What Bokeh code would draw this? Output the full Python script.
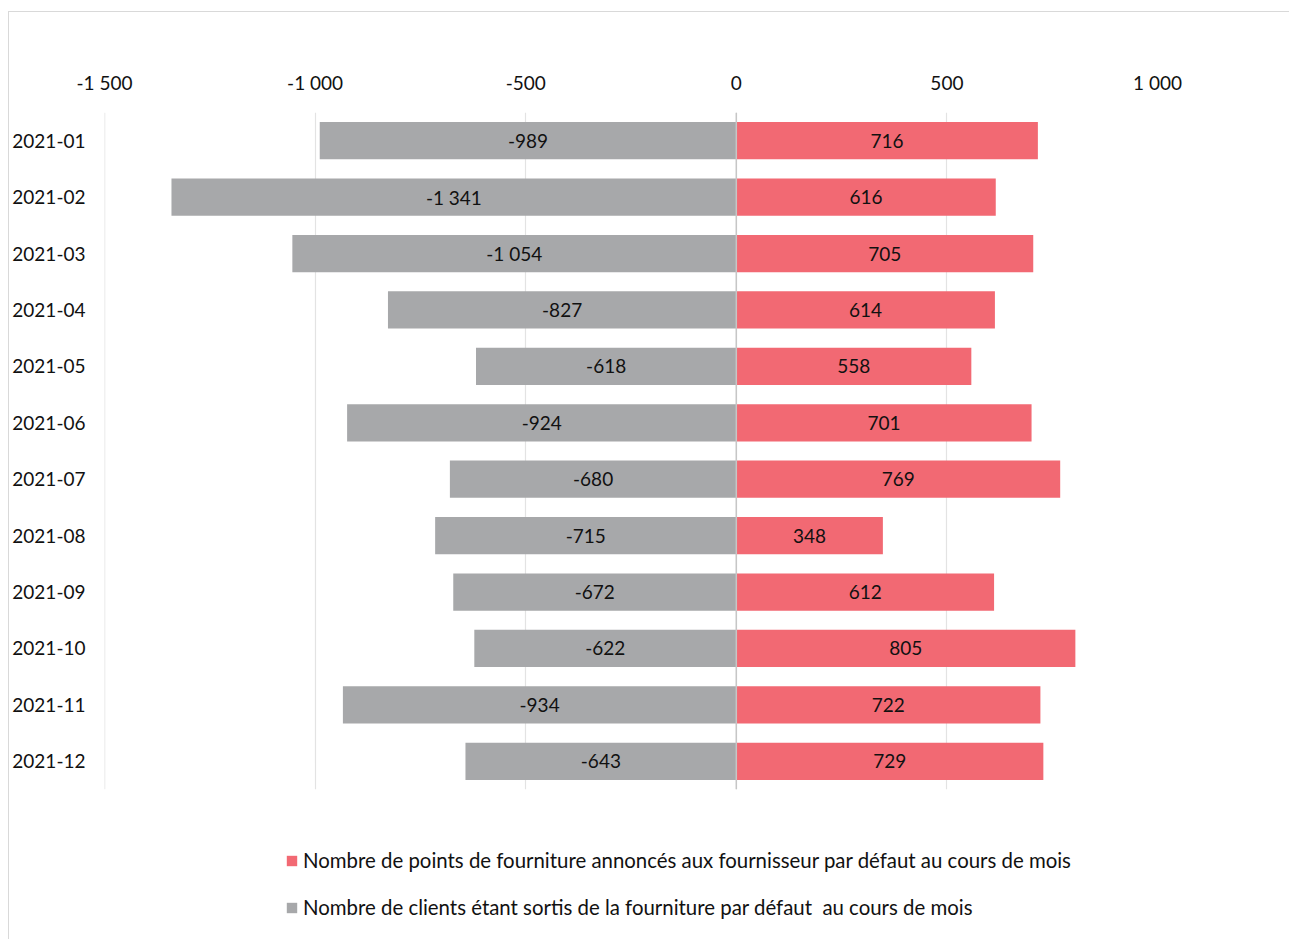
from bokeh.plotting import figure
from bokeh.layouts import column
from bokeh.models import (ColumnDataSource, FactorRange, FixedTicker, CustomJSTickFormatter,
                          Span, Legend, LegendItem, LabelSet)
from bokeh.core.properties import value
from bokeh.embed import file_html
from bokeh.resources import INLINE

months = ["2021-01", "2021-02", "2021-03", "2021-04", "2021-05", "2021-06",
          "2021-07", "2021-08", "2021-09", "2021-10", "2021-11", "2021-12"]
announced = [716, 616, 705, 614, 558, 701, 769, 348, 612, 805, 722, 729]
exited = [-989, -1341, -1054, -827, -618, -924, -680, -715, -672, -622, -934, -643]
x_ticks = [-1500, -1000, -500, 0, 500, 1000]
series_names = ["Nombre de points de fourniture annoncés aux fournisseur par défaut au cours de mois",
                "Nombre de clients étant sortis de la fourniture par défaut  au cours de mois"]

RED = "#F26973"
GRAY = "#A7A8AA"
FONT = "Lato"
FS = "19px"
LEG_FS = "20.4px"


def fmt(v):
    s = f"{abs(v):,}".replace(",", " ")
    return ("-" if v < 0 else "") + s


src = ColumnDataSource(dict(
    month=months, announced=announced, exited=exited,
    a_mid=[v / 2 for v in announced], e_mid=[v / 2 for v in exited],
    a_lbl=[fmt(v) for v in announced], e_lbl=[fmt(v) for v in exited],
))

W = 1280
p = figure(width=W, height=787, output_backend="svg", toolbar_location=None,
           x_range=(-1500, 1000), y_range=FactorRange(factors=list(reversed(months))),
           x_axis_location="above",
           min_border_left=95, min_border_right=132, min_border_top=100, min_border_bottom=10)
p.outline_line_color = None
p.border_fill_color = "white"

r_exit = p.hbar(y="month", left=0, right="exited", height=0.66, source=src,
                fill_color=GRAY, line_color=None)
r_ann = p.hbar(y="month", left=0, right="announced", height=0.66, source=src,
               fill_color=RED, line_color=None)

for col_x, col_t in (("e_mid", "e_lbl"), ("a_mid", "a_lbl")):
    p.add_layout(LabelSet(x=col_x, y="month", text=col_t, source=src,
                          text_align="center", text_baseline="middle",
                          text_font=value(FONT), text_font_size=FS, text_color="#111111",
                          y_offset=0))

p.add_layout(Span(location=0, dimension="height", line_color="#C6C6C6", line_width=1.5))
p.add_layout(Span(location=x_ticks[0], dimension="height", line_color="#E3E3E3", line_width=1.5))

p.xaxis.ticker = FixedTicker(ticks=x_ticks)
p.xaxis.formatter = CustomJSTickFormatter(code="""
const s = Math.abs(tick).toFixed(0).replace(/\\B(?=(\\d{3})+(?!\\d))/g, ' ');
return (tick < 0 ? '-' : '') + s;
""")
p.xaxis.axis_line_color = None
p.xaxis.major_tick_line_color = None
p.xaxis.minor_tick_line_color = None
p.xaxis.major_label_text_font = FONT
p.xaxis.major_label_text_font_size = FS
p.xaxis.major_label_text_color = "#111111"
p.xaxis.major_label_standoff = 13

p.yaxis.axis_line_color = None
p.yaxis.major_tick_line_color = None
p.yaxis.minor_tick_line_color = None
p.yaxis.major_label_text_font = FONT
p.yaxis.major_label_text_font_size = FS
p.yaxis.major_label_text_color = "#111111"
p.yaxis.major_label_standoff = 13

p.xgrid.grid_line_color = "#E3E3E3"
p.xgrid.grid_line_width = 1.2
p.ygrid.grid_line_color = None

# legend strip below the chart; its (hidden) renderers carry the series styles
lp = figure(width=W, height=140, output_backend="svg", toolbar_location=None,
            x_range=(-1500, 1000), y_range=FactorRange(factors=list(reversed(months))),
            x_axis_location=None, y_axis_location=None,
            min_border=0, outline_line_color=None)
lp.grid.visible = False
lr_exit = lp.hbar(y="month", left=0, right="exited", height=0.66, source=src,
                  fill_color=GRAY, line_color=None, visible=False)
lr_ann = lp.hbar(y="month", left=0, right="announced", height=0.66, source=src,
                 fill_color=RED, line_color=None, visible=False)
legend = Legend(items=[LegendItem(label=series_names[0], renderers=[lr_ann]),
                       LegendItem(label=series_names[1], renderers=[lr_exit])],
                location=(181, 19), orientation="vertical",
                glyph_width=13, glyph_height=13, label_height=26, spacing=21,
                label_standoff=5, padding=0, margin=0,
                border_line_color=None, background_fill_alpha=0,
                inactive_fill_alpha=0,
                label_text_font=FONT, label_text_font_size=LEG_FS, label_text_color="#111111")
lp.add_layout(legend, "center")

layout = column(p, lp, spacing=0)
layout.margin = (11, 0, 0, 8)
layout.styles = {"border-top": "1px solid #D9D9D9", "border-left": "1px solid #D9D9D9"}

open("out.html", "w").write(file_html(layout, INLINE))
